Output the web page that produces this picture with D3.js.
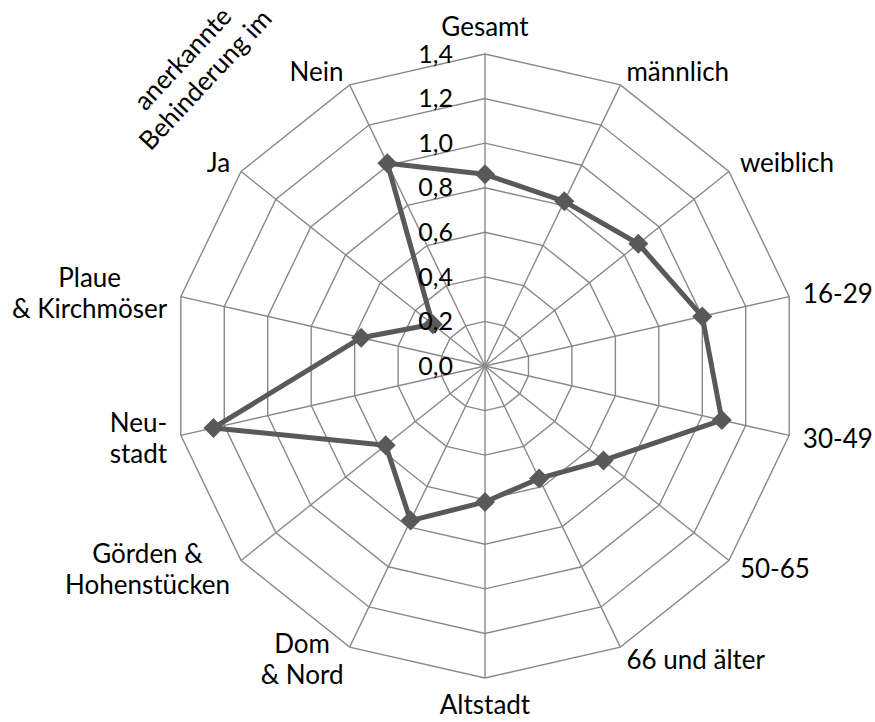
<!DOCTYPE html>
<html>
<head>
<meta charset="utf-8">
<script src="https://cdn.jsdelivr.net/npm/d3@7"></script>
<style>
  body { margin: 0; background: #fff; }
  svg { display: block; font-family: Lato, "Open Sans", sans-serif; }
</style>
</head>
<body>
<svg width="875" height="722"></svg>
<script>
let categories = ['Gesamt', 'männlich', 'weiblich', '16-29', '30-49', '50-65', '66 und älter',
  'Altstadt', 'Dom\n& Nord', 'Görden &\nHohenstücken', 'Neu-\nstadt', 'Plaue\n& Kirchmöser', 'Ja', 'Nein'];
let values = [0.86, 0.82, 0.88, 1.00, 1.09, 0.68, 0.56, 0.61, 0.77, 0.57, 1.25, 0.57, 0.30, 1.01];
let tickValues = [0, 0.2, 0.4, 0.6, 0.8, 1.0, 1.2, 1.4];
let tickLabels = ['0,0', '0,2', '0,4', '0,6', '0,8', '1,0', '1,2', '1,4'];
let groupLabel = ['anerkannte', 'Behinderung im'];

let svg = d3.select('svg');
let cx = 485, cy = 366, R = 312;
let n = categories.length;

let r = d3.scaleLinear().domain([0, 1.4]).range([0, R]);
let angle = d3.scaleLinear().domain([0, n]).range([0, 2 * Math.PI]);

function pos(i, v) {
  let a = angle(i);
  return [cx + r(v) * Math.sin(a), cy - r(v) * Math.cos(a)];
}

let grid = svg.append('g')
  .attr('fill', 'none')
  .attr('stroke', '#898989')
  .attr('stroke-width', 1.4);

// spokes
grid.selectAll('line')
  .data(d3.range(n))
  .join('line')
    .attr('x1', cx)
    .attr('y1', cy)
    .attr('x2', i => pos(i, 1.4)[0])
    .attr('y2', i => pos(i, 1.4)[1]);

// rings
grid.selectAll('path')
  .data(tickValues.slice(1))
  .join('path')
    .attr('d', v => 'M' + d3.range(n).map(i => pos(i, v).join(',')).join('L') + 'Z');

// data line
let line = d3.line().curve(d3.curveLinearClosed);
svg.append('path')
  .attr('d', line(values.map((v, i) => pos(i, v))))
  .attr('fill', 'none')
  .attr('stroke', '#595959')
  .attr('stroke-width', 5)
  .attr('stroke-linejoin', 'round');

svg.append('g')
  .selectAll('path')
  .data(values)
  .join('path')
    .attr('d', 'M0,-10L10,0L0,10L-10,0Z')
    .attr('transform', (v, i) => `translate(${pos(i, v)})`)
    .attr('fill', '#595959');

// tick labels
svg.append('g')
  .selectAll('text')
  .data(tickValues)
  .join('text')
    .attr('x', cx - 32)
    .attr('y', v => cy - r(v))
    .attr('dy', '0.35em')
    .attr('text-anchor', 'end')
    .attr('font-size', 25)
    .text((v, i) => tickLabels[i]);

// category labels
let labels = svg.append('g').attr('font-size', 26).attr('fill', '#000');
categories.forEach((c, i) => {
  let a = angle(i);
  let s = Math.sin(a), co = Math.cos(a);
  let x = cx + (R + 14) * s;
  let y = cy - (R + 14) * co;
  let lines = c.split('\n');
  let lh = 31;
  let t = labels.append('text').attr('text-anchor', 'middle');
  lines.forEach(l => t.append('tspan').text(l));
  let w = d3.max(t.selectAll('tspan').nodes(), d => d.getComputedTextLength());
  let bx = x, by = y;
  if (Math.abs(s) < 0.1) {
    by = y - co * 13;
  } else if (s > 0) {
    bx = x + w / 2;
  } else {
    bx = x - w / 2;
  }
  let top = by - (lines.length - 1) * lh / 2;
  t.selectAll('tspan')
    .attr('x', bx)
    .attr('y', (d, k) => top + k * lh)
    .attr('dy', '0.35em');
});

// rotated group label
let g = svg.append('text')
  .attr('transform', 'translate(194,69) rotate(-47)')
  .attr('text-anchor', 'middle')
  .attr('font-size', 26);
groupLabel.forEach((l, k) => {
  g.append('tspan').attr('x', 0).attr('y', (k - 0.5) * 31).attr('dy', '0.35em').text(l);
});
</script>
</body>
</html>
